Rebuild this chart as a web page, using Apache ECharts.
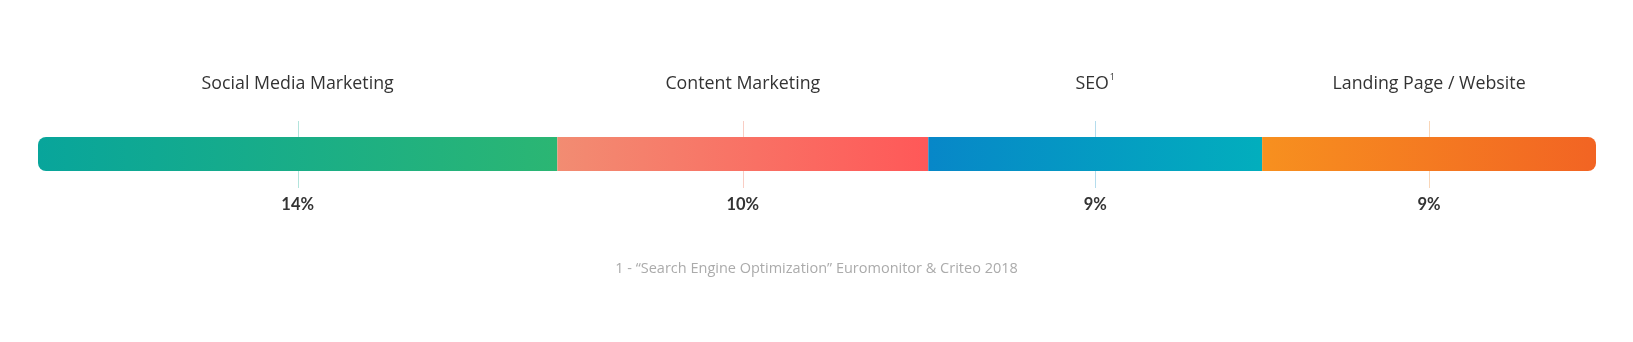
<!DOCTYPE html>
<html>
<head>
<meta charset="utf-8">
<style>
  html, body { margin: 0; padding: 0; background: #ffffff; }
  #chart { width: 1633px; height: 342px; }
</style>
<script src="https://cdn.jsdelivr.net/npm/echarts@6/dist/echarts.min.js"></script>
</head>
<body>
<div id="chart"></div>
<script>
// ---- data ----
var categories = ['Social Media Marketing', 'Content Marketing', 'SEO', 'Landing Page / Website'];
var footnoteMarks = ['', '', '1', ''];
var values = [14, 10, 9, 9];
var valueLabels = ['14%', '10%', '9%', '9%'];
var footnote = '1 - \u201CSearch Engine Optimization\u201D Euromonitor & Criteo 2018';

// ---- styles ----
var gradients = [
  ['#08a59b', '#2bb673'],
  ['#f28c72', '#ff5858'],
  ['#0787c8', '#02aebd'],
  ['#f7901f', '#f26423']
];
var tickColors = ['#b3e4dc', '#f9cdc4', '#b4dced', '#f9d6b8'];
var FONT = '"Open Sans", Lato, sans-serif';
var BOLD_FONT = 'Lato, "Open Sans", sans-serif';

var total = values.reduce(function (a, b) { return a + b; }, 0);
var starts = [];
var acc = 0;
values.forEach(function (v) { starts.push(acc); acc += v; });

var chart = echarts.init(document.getElementById('chart'), null, { renderer: 'canvas' });

var barSeries = values.map(function (v, i) {
  var r = 8;
  var radius = [0, 0, 0, 0];
  if (i === 0) radius = [r, 0, 0, r];
  if (i === values.length - 1) radius = [0, r, r, 0];
  return {
    type: 'bar',
    name: categories[i],
    stack: 'total',
    barWidth: 34,
    z: 3,
    silent: true,
    data: [v],
    itemStyle: {
      borderRadius: radius,
      color: new echarts.graphic.LinearGradient(0, 0, 1, 0, [
        { offset: 0, color: gradients[i][0] },
        { offset: 1, color: gradients[i][1] }
      ])
    }
  };
});

var customData = values.map(function (v, i) {
  return [starts[i], starts[i] + v, starts[i] + v / 2, i];
});

var labelSeries = {
  type: 'custom',
  coordinateSystem: 'cartesian2d',
  z: 1,
  silent: true,
  clip: false,
  encode: { x: [0, 1, 2] },
  data: customData,
  renderItem: function (params, api) {
    var idx = api.value(3);
    var c = api.coord([api.value(2), 0]);
    var x = Math.round(c[0]) + 0.5;
    var y = c[1];
    var nameText = '{n|' + categories[idx] + '}' + (footnoteMarks[idx] ? '{s|' + footnoteMarks[idx] + '}' : '');
    return {
      type: 'group',
      children: [
        {
          type: 'line',
          shape: { x1: x, y1: y - 33, x2: x, y2: y + 34 },
          style: { stroke: tickColors[idx], lineWidth: 1 },
          z2: 0
        },
        {
          type: 'text',
          x: c[0],
          y: y - 70,
          style: {
            text: nameText,
            align: 'center',
            verticalAlign: 'middle',
            rich: {
              n: { fontFamily: FONT, fontSize: 17.8, fontWeight: 400, fill: '#333333', lineHeight: 22 },
              s: { fontFamily: FONT, fontSize: 9, fontWeight: 400, fill: '#333333', lineHeight: 22, verticalAlign: 'top', padding: [0, 0, 8, 1] }
            }
          }
        },
        {
          type: 'text',
          x: c[0],
          y: y + 51,
          style: {
            text: valueLabels[idx],
            align: 'center',
            verticalAlign: 'middle',
            fontFamily: BOLD_FONT,
            fontSize: 16.5,
            fontWeight: 700,
            fill: '#333333'
          }
        }
      ]
    };
  }
};

chart.setOption({
  animation: false,
  backgroundColor: '#ffffff',
  grid: { left: 38, right: 37, top: 120, height: 68, containLabel: false },
  xAxis: { type: 'value', min: 0, max: total, show: false },
  yAxis: { type: 'category', data: ['share'], show: false },
  title: {
    text: footnote,
    left: 'center',
    top: 256,
    textStyle: { fontFamily: FONT, fontSize: 14.5, fontWeight: 400, color: '#ababab' }
  },
  series: barSeries.concat([labelSeries])
});
</script>
</body>
</html>
